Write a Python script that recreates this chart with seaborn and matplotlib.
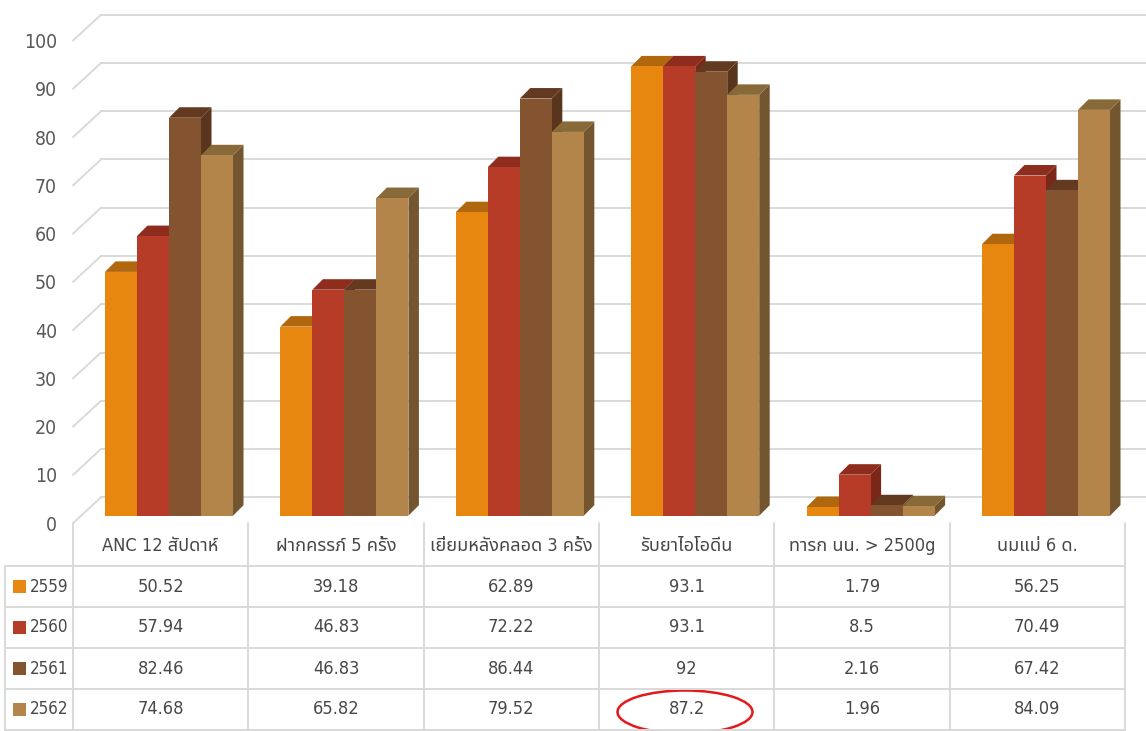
import numpy as np
import pandas as pd
import matplotlib
matplotlib.use("Agg")
import matplotlib.pyplot as plt
import seaborn as sns
from matplotlib import font_manager as fm
from matplotlib import transforms
from matplotlib.patches import Polygon, Ellipse, Rectangle
from matplotlib.lines import Line2D
from matplotlib.ft2font import FT2Font

# ---- data -------------------------------------------------------------
categories = ["ANC 12 สัปดาห์", "ฝากครรภ์ 5 ครั้ง", "เยี่ยมหลังคลอด 3 ครั้ง",
              "รับยาไอโอดีน", "ทารก นน. > 2500g", "นมแม่ 6 ด."]
years = ["2559", "2560", "2561", "2562"]
v2559 = [50.52, 39.18, 62.89, 93.1, 1.79, 56.25]
v2560 = [57.94, 46.83, 72.22, 93.1, 8.5, 70.49]
v2561 = [82.46, 46.83, 86.44, 92, 2.16, 67.42]
v2562 = [74.68, 65.82, 79.52, 87.2, 1.96, 84.09]
series = [v2559, v2560, v2561, v2562]
y_ticks = list(range(0, 101, 10))

# face colours per year: front, top, side
front_colors = ["#E8870F", "#B63C28", "#845430", "#B3854A"]
top_colors = ["#B0670E", "#8E2D1D", "#633A20", "#876A38"]
side_colors = ["#9A5A0C", "#7A271A", "#5A351D", "#735630"]

# ---- fonts ------------------------------------------------------------
def covers(path, ch):
    try:
        return ord(ch) in FT2Font(path).get_charmap()
    except Exception:
        return False

names = {f.name for f in fm.fontManager.ttflist}
thai_font = None
for pref in ["Noto Sans Thai", "Noto Sans Thai UI", "Loma", "Garuda", "Tahoma",
             "Leelawadee UI", "Sarabun", "Kinnari", "Norasi", "Waree", "Umpush"]:
    if pref in names:
        thai_font = pref
        break
if thai_font is None:
    for fe in fm.fontManager.ttflist:
        if covers(fe.fname, "ส"):
            thai_font = fe.name
            break

# a narrow latin face suits the tight table cells
latin_font, stretch, scale = "DejaVu Sans", "normal", 0.8
narrow = [f for f in fm.fontManager.ttflist
          if f.style == "normal" and f.weight in (400, "normal", "regular")
          and ("Narrow" in f.name or "Condensed" in f.name
               or f.stretch in ("condensed", "semi-condensed"))]
if "Liberation Sans Narrow" in names:
    latin_font, scale = "Liberation Sans Narrow", 1.0
elif any(f.name == "DejaVu Sans" and f.stretch == "condensed" for f in narrow):
    latin_font, stretch, scale = "DejaVu Sans", "condensed", 0.9
elif narrow:
    latin_font, stretch, scale = narrow[0].name, narrow[0].stretch, 0.9

family = [latin_font] + ([thai_font] if thai_font else []) + ["DejaVu Sans"]

sns.set_theme(style="white")
plt.rcParams["font.family"] = family
plt.rcParams["font.stretch"] = stretch

W, H = 1146, 731
fig = plt.figure(figsize=(W / 100, H / 100), dpi=100)
fig.patch.set_facecolor("white")


def fx(px):
    return px / W


def fy(py):
    return 1 - py / H


# bar area: category 0 centred at x=169 px, spacing 175.4 px; value 0 at y=515.7 px
px_per_unit = 4.826
slot = 175.4
x_left = 169 - slot / 2
ax = fig.add_axes([fx(x_left), fy(515.7), (6 * slot) / W, (100 * px_per_unit) / H])
ax.set_xlim(-0.5, 5.5)
ax.set_ylim(0, 100)
ax.axis("off")

# ---- walls / gridlines ------------------------------------------------
grid_col = "#D9D9D9"
back_dy = 18.4 / px_per_unit      # back wall lift relative to bar fronts
front_dy = -7.5 / px_per_unit     # front edge of the side wall
blend = transforms.blended_transform_factory(fig.transFigure, ax.transData)
for v in y_ticks:
    ax.add_line(Line2D([fx(101), 1.0], [v + back_dy, v + back_dy], transform=blend,
                       color=grid_col, lw=1.4, clip_on=False, zorder=0))
    ax.add_line(Line2D([fx(73), fx(101)], [v + front_dy, v + back_dy], transform=blend,
                       color=grid_col, lw=1.4, clip_on=False, zorder=0))
    ax.text(fx(57), v + front_dy - 0.4, str(v), transform=blend, ha="right", va="center",
            fontsize=15.5 * scale, color="#595959", family=family, fontstretch=stretch)

# ---- bars -------------------------------------------------------------
df = pd.DataFrame({
    "category": [c for s in series for c in categories],
    "year": [y for y, s in zip(years, series) for _ in s],
    "value": [v for s in series for v in s],
})
sns.barplot(data=df, x="category", y="value", hue="year", order=categories,
            hue_order=years, palette=front_colors, width=0.73, gap=0,
            saturation=1, legend=False, ax=ax, linewidth=0, errorbar=None)
ax.set_xlim(-0.5, 5.5)
ax.set_ylim(0, 100)

dx = 10.5 / slot
dy = 10.5 / px_per_unit
hex_front = [matplotlib.colors.to_hex(c) for c in front_colors]
bars = sorted(ax.patches, key=lambda p: p.get_x())
for rank, p in enumerate(bars):
    x0, w, h = p.get_x(), p.get_width(), p.get_height()
    k = hex_front.index(matplotlib.colors.to_hex(p.get_facecolor()))
    z = 2 + rank * 0.03
    side = Polygon([(x0 + w, 0), (x0 + w + dx, dy), (x0 + w + dx, h + dy), (x0 + w, h)],
                   closed=True, facecolor=side_colors[k], edgecolor="none",
                   zorder=z, clip_on=False)
    top = Polygon([(x0, h), (x0 + dx, h + dy), (x0 + w + dx, h + dy), (x0 + w, h)],
                  closed=True, facecolor=top_colors[k], edgecolor="none",
                  zorder=z + 0.01, clip_on=False)
    ax.add_patch(side)
    ax.add_patch(top)
    p.set_zorder(z + 0.02)
    p.set_clip_on(False)

# ---- data table -------------------------------------------------------
col_x = [73 + 175.3 * i for i in range(7)]
row_y = [566, 607, 648, 689, 730]
line_kw = dict(color=grid_col, lw=1.4, transform=fig.transFigure)

for xv in col_x:
    fig.add_artist(Line2D([fx(xv), fx(xv)], [fy(523), fy(730)], **line_kw))
fig.add_artist(Line2D([fx(5), fx(5)], [fy(566), fy(730)], **line_kw))
for yv in row_y:
    fig.add_artist(Line2D([fx(5), fx(col_x[-1])], [fy(yv), fy(yv)], **line_kw))

txt_col = "#474747"
tkw = dict(color=txt_col, family=family, fontstretch=stretch)
for i, cat in enumerate(categories):
    cx = (col_x[i] + col_x[i + 1]) / 2
    fig.text(fx(cx), fy(546), cat, ha="center", va="center", fontsize=14.5 * scale, **tkw)

for r, (yr, vals) in enumerate(zip(years, series)):
    cy = (row_y[r] + row_y[r + 1]) / 2
    fig.add_artist(Rectangle((fx(12.5), fy(cy + 6.5)), 13 / W, 13 / H,
                             transform=fig.transFigure, facecolor=front_colors[r],
                             edgecolor="none"))
    fig.text(fx(49.5), fy(cy), yr, ha="center", va="center", fontsize=13.5 * scale, **tkw)
    for i, v in enumerate(vals):
        cx = (col_x[i] + col_x[i + 1]) / 2
        fig.text(fx(cx), fy(cy), f"{v:g}", ha="center", va="center",
                 fontsize=14.5 * scale, **tkw)

# highlight around the 2562 iodine value
fig.add_artist(Ellipse((fx(685), fy(712)), 135 / W, 43 / H, transform=fig.transFigure,
                       facecolor="none", edgecolor="#E3191C", lw=1.8))

fig.savefig("out.png", dpi=100, facecolor="white")
